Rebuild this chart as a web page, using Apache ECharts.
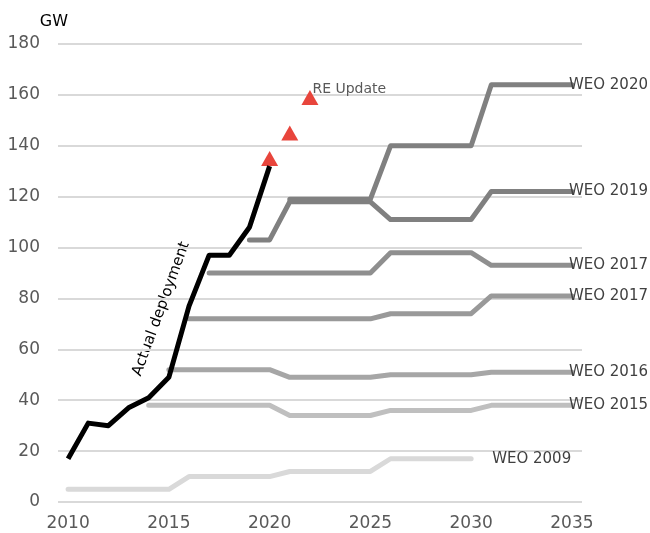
<!DOCTYPE html>
<html>
<head>
<meta charset="utf-8">
<script src="https://cdn.jsdelivr.net/npm/echarts@6/dist/echarts.min.js"></script>
<style>
    html, body { margin: 0; padding: 0; background: #fff; }
    #chart { width: 650px; height: 533px; }
</style>
</head>
<body>
<div id="chart"></div>
<script>
// Years on the x axis (category axis, one slot per year)
var years = [];
for (var y = 2010; y <= 2035; y++) years.push(String(y));

// Values in GW, null where a series has no data
var actual = [17, 31, 30, 37, 41, 49, 77, 97, 97, 108, 132, null, null, null, null, null, null, null, null, null, null, null, null, null, null, null];
var reUpdate = [null, null, null, null, null, null, null, null, null, null, 135, 145, 159, null, null, null, null, null, null, null, null, null, null, null, null, null];
var weo2009 = [5, 5, 5, 5, 5, 5, 10, 10, 10, 10, 10, 12, 12, 12, 12, 12, 17, 17, 17, 17, 17, null, null, null, null, null];
var weo2015 = [null, null, null, null, 38, 38, 38, 38, 38, 38, 38, 34, 34, 34, 34, 34, 36, 36, 36, 36, 36, 38, 38, 38, 38, 38];
var weo2016 = [null, null, null, null, null, 52, 52, 52, 52, 52, 52, 49, 49, 49, 49, 49, 50, 50, 50, 50, 50, 51, 51, 51, 51, 51];
var weo2017a = [null, null, null, null, null, null, 72, 72, 72, 72, 72, 72, 72, 72, 72, 72, 74, 74, 74, 74, 74, 81, 81, 81, 81, 81];
var weo2017b = [null, null, null, null, null, null, null, 90, 90, 90, 90, 90, 90, 90, 90, 90, 98, 98, 98, 98, 98, 93, 93, 93, 93, 93];
var weo2019 = [null, null, null, null, null, null, null, null, null, 103, 103, 118, 118, 118, 118, 118, 111, 111, 111, 111, 111, 122, 122, 122, 122, 122];
var weo2020 = [null, null, null, null, null, null, null, null, null, null, null, 119, 119, 119, 119, 119, 140, 140, 140, 140, 140, 164, 164, 164, 164, 164];
var yTicks = [0, 20, 40, 60, 80, 100, 120, 140, 160, 180];

var fontFamily = '"DejaVu Sans", sans-serif';

// Build one gray outlook line with its name at the right end
function weoLine(name, data, color, dist) {
    return {
        name: name,
        type: 'line',
        data: data,
        symbol: 'none',
        silent: true,
        lineStyle: { color: color, width: 5, cap: 'round', join: 'round' },
        endLabel: {
            show: true,
            formatter: name,
            distance: dist,
            color: '#404040',
            fontSize: 15,
            fontFamily: fontFamily
        }
    };
}

var chart = echarts.init(document.getElementById('chart'));
chart.setOption({
    animation: false,
    grid: { left: 58, right: 68, top: 44, bottom: 31, containLabel: false },
    xAxis: {
        type: 'category',
        data: years,
        boundaryGap: true,
        axisLine: { show: false },
        axisTick: { show: false },
        axisLabel: { interval: 4, color: '#595959', fontSize: 17, fontFamily: fontFamily, margin: 13 }
    },
    yAxis: {
        type: 'value',
        min: yTicks[0],
        max: yTicks[yTicks.length - 1],
        interval: 20,
        name: 'GW',
        nameLocation: 'end',
        nameGap: 14,
        nameTextStyle: { color: '#000', fontSize: 16, fontFamily: fontFamily, align: 'right', padding: [0, -10, 0, 0] },
        axisLine: { show: false },
        axisTick: { show: false },
        axisLabel: { color: '#595959', fontSize: 17, fontFamily: fontFamily, margin: 18 },
        splitLine: { lineStyle: { color: '#d9d9d9', width: 2 } }
    },
    series: [
        weoLine('WEO 2009', weo2009, '#d9d9d9', 21),
        weoLine('WEO 2015', weo2015, '#bfbfbf', -3),
        weoLine('WEO 2016', weo2016, '#a6a6a6', -3),
        weoLine('WEO 2017', weo2017a, '#999999', -3),
        weoLine('WEO 2017', weo2017b, '#8f8f8f', -3),
        weoLine('WEO 2019', weo2019, '#808080', -3),
        weoLine('WEO 2020', weo2020, '#808080', -3),
        {
            name: 'Actual deployment',
            type: 'line',
            data: actual,
            symbol: 'none',
            silent: true,
            lineStyle: { color: '#000', width: 5, join: 'round' }
        },
        {
            name: 'RE Update',
            type: 'scatter',
            data: reUpdate,
            symbol: 'triangle',
            symbolSize: [17, 15],
            silent: true,
            itemStyle: { color: '#e8453c', opacity: 1 },
            label: {
                show: true,
                formatter: function(p) { return p.dataIndex === 12 ? 'RE Update' : ''; },
                position: [11, -8],
                color: '#595959',
                fontSize: 14,
                fontFamily: fontFamily
            }
        }
    ],
    graphic: [
        {
            type: 'text',
            x: 144,
            y: 378,
            rotation: 70 * Math.PI / 180,
            style: {
                text: 'Actual deployment',
                fill: '#000',
                fontSize: 15,
                fontFamily: fontFamily,
                textAlign: 'left',
                textVerticalAlign: 'bottom'
            }
        }
    ]
});
</script>
</body>
</html>
